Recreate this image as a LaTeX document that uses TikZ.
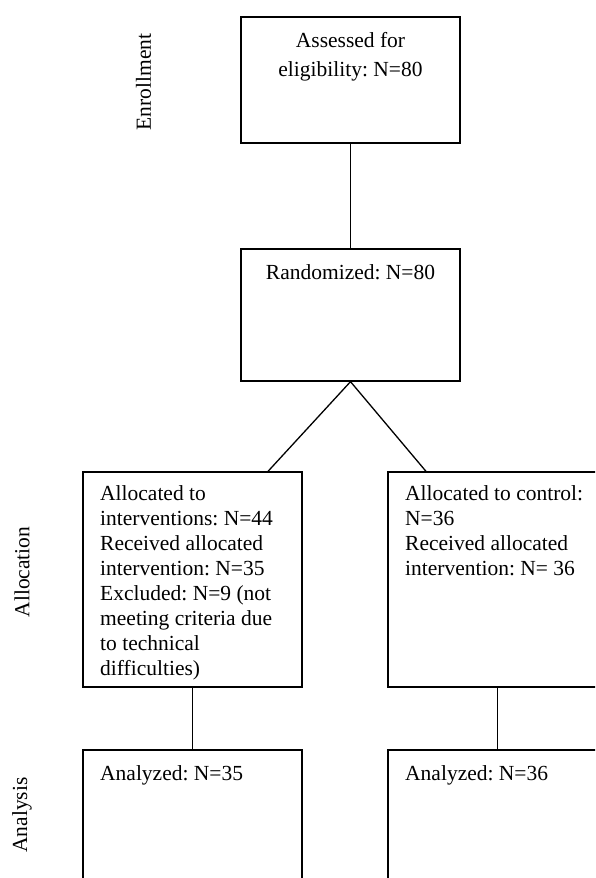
\documentclass[tikz,border=0pt]{standalone}
\usepackage{fontspec}
\setmainfont{Liberation Serif}
\usepackage{tikz}
\frenchspacing

\begin{document}
\begin{tikzpicture}[x=1pt, y=-1pt,
  box/.style={draw, line width=1.3pt, minimum width=219pt, inner sep=0pt},
  link/.style={line width=1.3pt},
  txt/.style={inner sep=0pt, align=left, anchor=base west, font=\fontsize{21.5}{25}\selectfont},
  phase/.style={inner sep=0pt, rotate=90, font=\fontsize{21.5}{25}\selectfont}]
\clip (0,0) rectangle (595,878);

% boxes
\node[box, minimum height=126pt] (assess) at (350.5,80) {};
\node[box, minimum height=132pt] (rand) at (350.5,315) {};
\node[box, minimum height=215pt] (interv) at (192.5,579.5) {};
\node[box, minimum height=215pt] (ctrl) at (497.5,579.5) {};
\node[box, minimum height=215pt] (anaint) at (192.5,857.5) {};
\node[box, minimum height=215pt] (anactrl) at (497.5,857.5) {};

% texts (placed at the baseline of their last line)
\node[txt, align=center, anchor=base, font=\fontsize{21.5}{28.5}\selectfont] (assesstxt) at (350.5,76) {Assessed for\\eligibility: N=80};
\node[txt, anchor=base] (randtxt) at (350.5,279) {Randomized: N=80};
\node[txt] (intervtxt) at (100,675) {Allocated to\\interventions: N=44\\Received allocated\\intervention: N=35\\Excluded: N=9 (not\\meeting criteria due\\to technical\\difficulties)};
\node[txt] (ctrltxt) at (405,575) {Allocated to control:\\N=36\\Received allocated\\intervention: N= 36};
\node[txt] (anainttxt) at (100,780) {Analyzed: N=35};
\node[txt] (anactrltxt) at (405,780) {Analyzed: N=36};

% phases
\node[phase] (enroll) at (143.5,82) {Enrollment};
\node[phase] (alloc) at (22,572) {Allocation};
\node[phase] (analysis) at (22,815) {Analysis};

% connectors
\coordinate (intop) at ([xshift=75.5pt]interv.north);
\coordinate (ctrltop) at ([xshift=-71.5pt]ctrl.north);
\draw[link] (assess.south) -- (rand.north);
\draw[link] (intop) -- (rand.south) -- (ctrltop);
\draw[link] (interv.south) -- (anaint.north);
\draw[link] (ctrl.south) -- (anactrl.north);
\end{tikzpicture}
\end{document}
